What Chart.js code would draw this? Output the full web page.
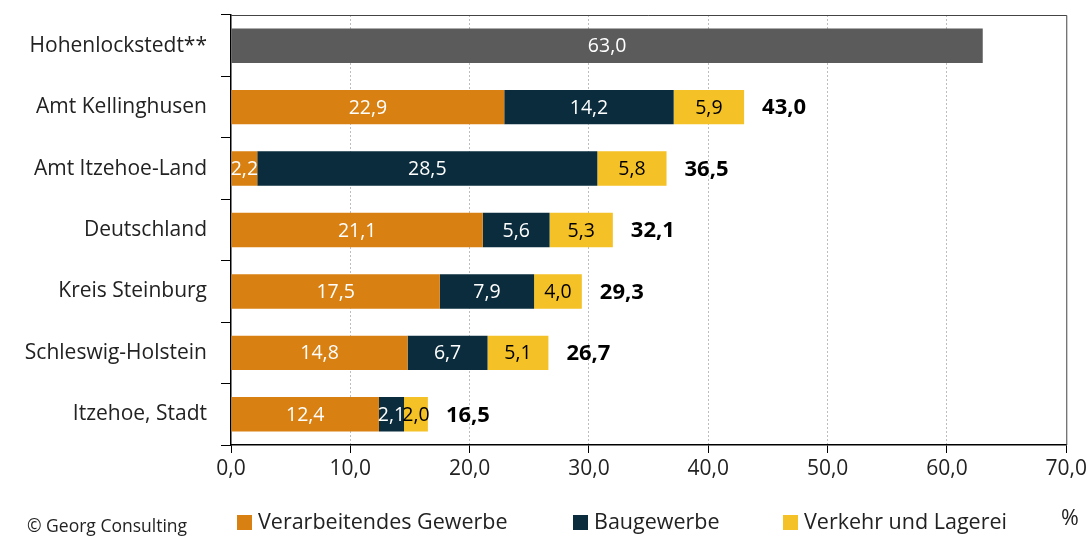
<!DOCTYPE html>
<html>
<head>
<meta charset="utf-8">
<script src="https://cdn.jsdelivr.net/npm/chart.js@4"></script>
<style>
  html, body { margin: 0; padding: 0; background: #fff; }
  #wrap { width: 1090px; height: 538px; }
</style>
</head>
<body>
<div id="wrap"><canvas id="myChart" width="1090" height="538"></canvas></div>
<script>
"use strict";

// 데이터
const regions = ['Hohenlockstedt**', 'Amt Kellinghusen', 'Amt Itzehoe-Land', 'Deutschland', 'Kreis Steinburg', 'Schleswig-Holstein', 'Itzehoe, Stadt'];
const gesamtOhneAufteilung = [63.0, null, null, null, null, null, null];
const verarbeitend = [null, 22.9, 2.2, 21.1, 17.5, 14.8, 12.4];
const bau = [null, 14.2, 28.5, 5.6, 7.9, 6.7, 2.1];
const verkehr = [null, 5.9, 5.8, 5.3, 4.0, 5.1, 2.0];
const totals = [null, 43.0, 36.5, 32.1, 29.3, 26.7, 16.5];
const xTicks = [0, 10, 20, 30, 40, 50, 60, 70];
const legendNames = ['Verarbeitendes Gewerbe', 'Baugewerbe', 'Verkehr und Lagerei'];

const FONT = '"Open Sans", "Noto Sans", sans-serif';
const colors = ['#5b5b5b', '#d98012', '#0a2c3d', '#f4c126'];
const labelColors = ['#fff', '#fff', '#fff', '#000'];

function komma(v) {
  return v.toFixed(1).replace('.', ',');
}

// 막대 안 숫자 + 합계 + 범례 그리기
const labelPlugin = {
  id: 'labels',
  afterDatasetsDraw(chart) {
    const ctx = chart.ctx;
    ctx.save();
    ctx.textBaseline = 'middle';
    chart.data.datasets.forEach((ds, di) => {
      const meta = chart.getDatasetMeta(di);
      meta.data.forEach((bar, i) => {
        const v = ds.data[i];
        if (v == null) return;
        const left = Math.min(bar.x, bar.base);
        const right = Math.max(bar.x, bar.base);
        ctx.font = '19.5px ' + FONT;
        ctx.fillStyle = labelColors[di];
        ctx.textAlign = 'center';
        ctx.fillText(komma(v), (left + right) / 2, bar.y + 1);
      });
    });
    // 합계
    const xs = chart.scales.x;
    const ys = chart.scales.y;
    ctx.font = 'bold 22px ' + FONT;
    ctx.fillStyle = '#000';
    ctx.textAlign = 'left';
    totals.forEach((t, i) => {
      if (t == null) return;
      const end = (verarbeitend[i] || 0) + (bau[i] || 0) + (verkehr[i] || 0);
      ctx.fillText(komma(t), xs.getPixelForValue(end) + 18, ys.getPixelForValue(i) + 1);
    });
    ctx.restore();
  },
  afterDraw(chart) {
    const ctx = chart.ctx;
    const a = chart.chartArea;
    ctx.save();
    // 위, 오른쪽 테두리
    ctx.strokeStyle = '#444';
    ctx.lineWidth = 1;
    ctx.beginPath();
    ctx.moveTo(a.left, a.top + 0.5);
    ctx.lineTo(a.right + 0.5, a.top + 0.5);
    ctx.lineTo(a.right + 0.5, a.bottom);
    ctx.stroke();

    // 범례
    const legendX = [237, 573, 783];
    ctx.textBaseline = 'middle';
    ctx.textAlign = 'left';
    ctx.font = '21.5px ' + FONT;
    legendNames.forEach((name, i) => {
      ctx.fillStyle = colors[i + 1];
      ctx.fillRect(legendX[i], 515, 15, 15);
      ctx.fillStyle = '#222';
      ctx.fillText(name, legendX[i] + 21, 523);
    });
    ctx.fillText('%', 1061, 519);
    ctx.font = '17.5px ' + FONT;
    ctx.fillText('\u00a9 Georg Consulting', 27, 527);
    ctx.restore();
  }
};

const data = {
  labels: regions,
  datasets: [
    { label: 'Gesamt', data: gesamtOhneAufteilung, backgroundColor: colors[0] },
    { label: legendNames[0], data: verarbeitend, backgroundColor: colors[1] },
    { label: legendNames[1], data: bau, backgroundColor: colors[2] },
    { label: legendNames[2], data: verkehr, backgroundColor: colors[3] }
  ]
};

const config = {
  type: 'bar',
  data,
  options: {
    responsive: false,
    animation: false,
    indexAxis: 'y',
    layout: { padding: { left: 0, right: 23, top: 15, bottom: 0 } },
    datasets: { bar: { categoryPercentage: 1, barPercentage: 0.56, borderWidth: 0 } },
    plugins: {
      legend: { display: false },
      tooltip: { enabled: false }
    },
    scales: {
      x: {
        stacked: true,
        min: 0,
        max: 70,
        afterFit(scale) { scale.height = 93; },
        afterBuildTicks(scale) { scale.ticks = xTicks.map(v => ({ value: v })); },
        ticks: {
          callback: v => komma(v),
          font: { family: FONT, size: 21 },
          color: '#222',
          padding: 3,
          maxRotation: 0
        },
        grid: {
          color: ctx => (ctx.tick && (ctx.tick.value === 0 || ctx.tick.value === 70)) ? 'rgba(0,0,0,0)' : '#bdbdbd',
          tickColor: '#000',
          tickLength: 8,
          tickBorderDash: [],
          lineWidth: 1
        },
        border: { color: '#000', width: 1.5, dash: [2, 2] }
      },
      y: {
        stacked: true,
        afterFit(scale) {
          scale.width = 231;
          scale.paddingTop = 0;
          scale.paddingBottom = 0;
        },
        ticks: {
          font: { family: FONT, size: 21 },
          color: '#222',
          padding: 14
        },
        grid: {
          offset: true,
          drawOnChartArea: false,
          tickColor: '#000',
          tickLength: 10
        },
        border: { color: '#000', width: 1.5 }
      }
    }
  },
  plugins: [labelPlugin]
};

const myChart = new Chart(document.getElementById('myChart'), config);
</script>
</body>
</html>
